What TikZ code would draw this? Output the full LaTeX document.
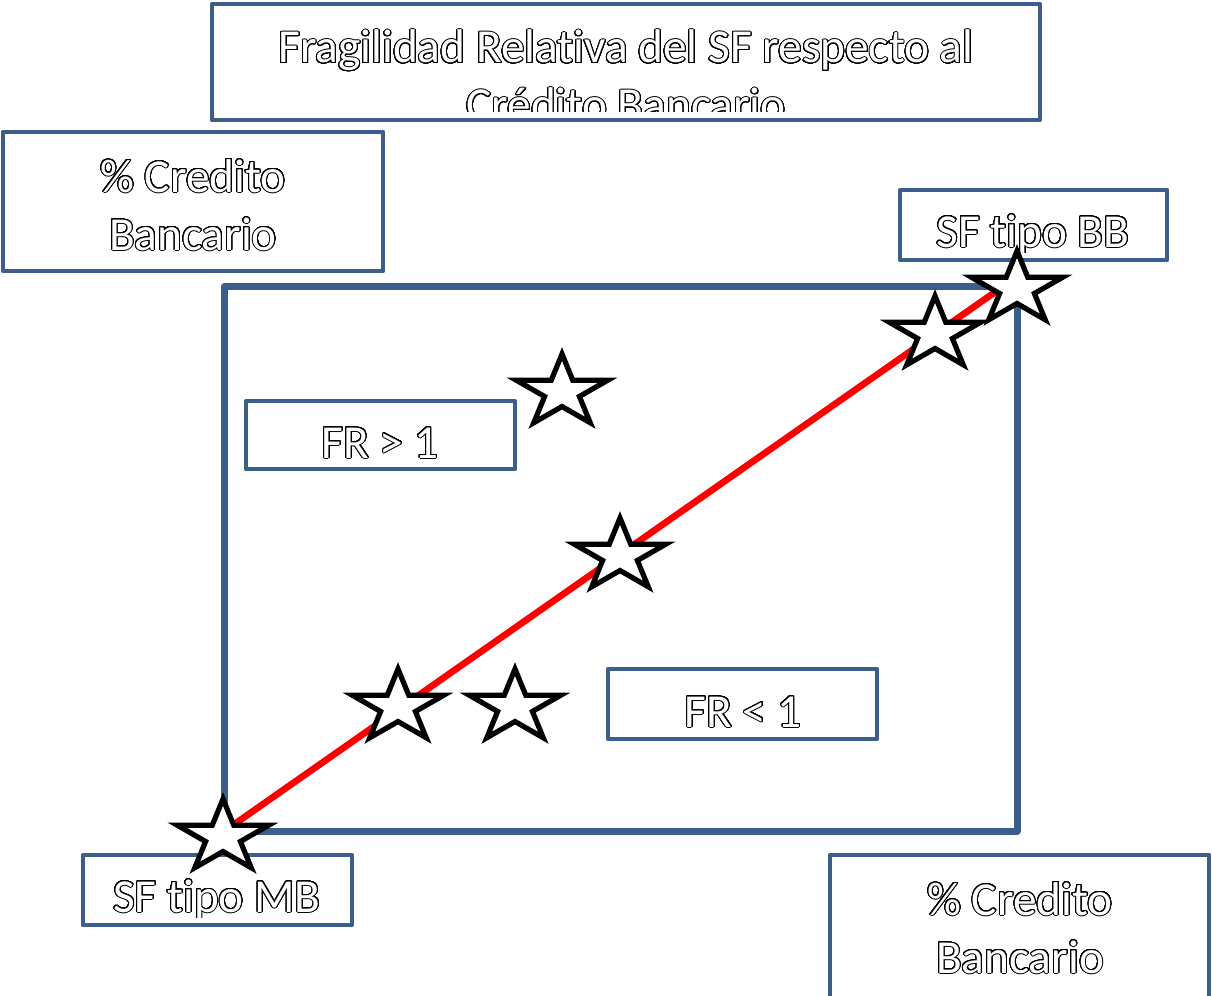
\documentclass[tikz,border=0pt]{standalone}
\usepackage{fontspec}
\setmainfont[Ligatures=NoCommon]{Carlito}
\usepackage{contour}
\usetikzlibrary{fit}

\definecolor{frameblue}{RGB}{59,94,139}
\definecolor{trendred}{RGB}{255,0,0}

% hollow (outlined) lettering: white letters with a thin black contour
\contourlength{0.75pt}
\contournumber{32}
\newcommand\outl[1]{\contour{black}{\textcolor{white}{#1}}}

% clip to the writable area of a frame (margins: left/right, top, bottom)
\newcommand\frameclip[2]{%
  \clip ([shift={(4,4)}]#1.north west) rectangle ([shift={(-4,-#2)}]#1.south east);}

\tikzset{
  box/.style={draw=frameblue, line width=3.6pt, line join=round,
              inner sep=0pt, minimum size=0pt},
  mainframe/.style={draw=frameblue, line width=5.25pt, line join=round,
              inner sep=0pt, minimum size=0pt},
  lbl/.style={anchor=base, inner sep=0pt,
              font=\fontsize{35.5pt}{44pt}\selectfont},
  starline/.style={draw=black, fill=white, line width=3.9pt, line join=miter},
  trend/.style={draw=trendred, line width=5pt},
  pics/fstar/.style={code={
    \coordinate (-c) at (0,0);
    \path[starline] (0,-38) -- (10.76,-11.73) -- (45.65,-11.74) -- (17.40,4.48)
      -- (28.21,30.74) -- (0,14.5) -- (-28.21,30.74) -- (-17.40,4.48)
      -- (-45.65,-11.74) -- (-10.76,-11.73) -- cycle;
  }}
}

\begin{document}
\begin{tikzpicture}[x=0.75pt, y=-0.75pt]
\useasboundingbox (0,0) rectangle (1212,995);

% frames
\node[mainframe, fit={(224,286.5) (1017,831)}] (plot) {};
\node[box, fit={(212,4) (1040,120)}] (title) {};
\node[box, fit={(3,132) (383,271)}] (yaxis) {};
\node[box, fit={(900,190) (1167,260)}] (bb) {};
\node[box, fit={(246,401) (515,469)}] (frhi) {};
\node[box, fit={(608,669) (877,739)}] (frlo) {};
\node[box, fit={(83,855) (352,925)}] (mb) {};
\node[box, fit={(830,855) (1209,999)}] (xaxis) {};

% texts, each cut off at the bottom margin of its frame
\begin{scope}
  \frameclip{title}{10.5}
  \node[lbl] (title1) at (626,63) {\outl{Fragilidad Relativa del SF respecto al}};
  \node[lbl] (title2) at (626,121) {\outl{Crédito Bancario}};
\end{scope}
\begin{scope}
  \frameclip{yaxis}{8}
  \node[lbl] (ya1) at (193,192) {\outl{\% Credito}};
  \node[lbl] (ya2) at (193,250) {\outl{Bancario}};
\end{scope}
\begin{scope}
  \frameclip{bb}{10}
  \node[lbl] (bbt) at (1033,247) {\outl{SF tipo BB}};
\end{scope}
\begin{scope}
  \frameclip{frhi}{8}
  \node[lbl] (frhit) at (380,458) {\outl{FR > 1}};
\end{scope}
\begin{scope}
  \frameclip{frlo}{8}
  \node[lbl] (frlot) at (743,727) {\outl{FR < 1}};
\end{scope}
\begin{scope}
  \frameclip{mb}{10}
  \node[lbl] (mbt) at (217,912) {\outl{SF tipo MB}};
\end{scope}
\begin{scope}
  \frameclip{xaxis}{8}
  \node[lbl] (xa1) at (1020,915) {\outl{\% Credito}};
  \node[lbl] (xa2) at (1020,973) {\outl{Bancario}};
\end{scope}

% trend line
\coordinate (ta) at (236,823);
\coordinate (tb) at (998,290);
\draw[trend] (ta) -- (tb);

% stars
\pic (s1) at (223,837) {fstar};
\pic (s2) at (398,707) {fstar};
\pic (s3) at (515,707) {fstar};
\pic (s4) at (620,556) {fstar};
\pic (s5) at (562,392) {fstar};
\pic (s6) at (935,334) {fstar};
\pic (s7) at (1017,289) {fstar};
\end{tikzpicture}
\end{document}
